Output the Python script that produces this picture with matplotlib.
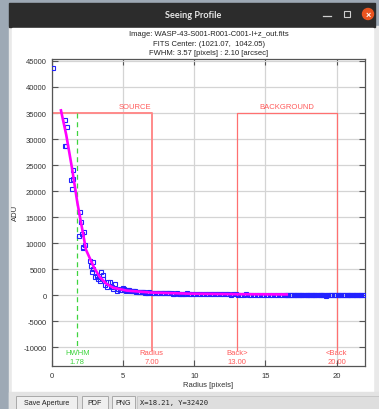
import matplotlib
matplotlib.use('Agg')
import matplotlib.pyplot as plt
from matplotlib.patches import Rectangle, Circle

# Header text of the plot
title_lines = [
    'Image: WASP-43-S001-R001-C001-I+z_out.fits',
    'FITS Center: (1021.07,  1042.05)',
    'FWHM: 3.57 [pixels] : 2.10 [arcsec]',
]

# Radial profile samples (radius in pixels, counts in ADU)
radius = [0.05, 0.91, 1.03, 0.94, 1.00, 1.45, 1.31, 1.50, 1.38, 1.97,
          2.01, 1.92, 2.08, 2.25, 2.15, 2.32, 2.20, 2.67, 2.90, 2.72,
          2.90, 2.78, 3.14, 3.60, 3.25, 3.02, 3.37, 3.72, 4.07, 4.42,
          4.30, 4.19, 3.84, 4.54, 4.78, 5.00, 4.66, 3.96, 3.56, 3.42,
          4.85, 5.05, 5.20, 5.40, 5.55, 5.75, 5.90, 6.10, 6.30, 6.45,
          6.65, 6.80, 7.00, 7.20, 7.35, 7.55, 7.70, 7.90, 8.10, 8.25,
          8.45, 8.60, 8.80, 9.00, 9.15, 9.35, 9.50, 9.70, 9.90, 10.05,
          10.25, 10.40, 10.60, 10.80, 10.95, 11.15, 11.30, 11.50, 11.70, 11.85,
          12.05, 12.20, 12.40, 12.60, 12.75, 12.95, 13.10, 13.30, 13.50, 13.65,
          13.85, 14.00, 14.20, 14.40, 14.55, 14.75, 14.90, 15.10, 15.30, 15.45,
          15.65, 15.80, 16.00, 16.20, 16.35, 16.55, 16.70, 16.90, 17.10, 17.25,
          17.45, 17.60, 17.80, 18.00, 18.15, 18.35, 18.50, 18.70, 18.90, 19.05,
          19.25, 19.40, 19.60, 19.80, 19.95, 20.15, 20.30, 20.50, 20.70, 20.85,
          21.05, 21.20, 21.40, 21.60, 21.75, 21.95,
          5.12, 5.31, 5.48, 5.66, 5.83, 6.02, 6.21, 6.38, 6.57, 6.74,
          7.11, 7.46, 7.82, 8.18, 8.53, 8.91, 9.26, 9.61, 16.45, 16.62,
          16.81, 17.02, 17.18, 17.36, 17.53, 17.71, 17.92, 18.08, 18.27, 18.43,
          18.61, 18.82, 18.98, 19.16, 19.33, 19.52, 19.71, 19.88, 20.07, 20.23,
          20.42, 20.61, 20.78, 20.97, 21.13, 21.32, 21.51, 21.68, 21.87]
adu = [43600, 33700, 32250, 28700, 28750, 24000, 22150, 22300, 20400, 15900,
       14000, 11400, 11700, 12050, 9300, 9600, 9000, 6600, 6350, 5650,
       5000, 4370, 3700, 3850, 3080, 3400, 2750, 1920, 2440, 2120,
       1150, 1480, 1480, 830, 1020, 1350, 1150, 2440, 3080, 4500,
       950, 1200, 820, 900, 700, 760, 620, 640, 520, 560,
       470, 500, 430, 460, 380, 410, 340, 360, 320, 300,
       330, 280, 300, 260, 280, 240, 380, 220, 200, 190,
       180, 170, 160, 150, 160, 140, 130, 150, 120, 110,
       130, 100, 110, 90, 120, 100, 80, 90, 70, 100,
       80, 60, 90, 70, 50, 80, 60, 40, 70, 50,
       30, 60, 40, 20, 50, 30, 10, 40, 20, 0,
       30, 10, 20, 0, 10, 30, -20, 10, 0, -10,
       -150, 20, 0, -10, 10, -20, 0, 10, -10, 0,
       20, -10, 0, 10, -20, 0,
       1050, 980, 850, 720, 680, 590, 560, 500, 480, 440,
       420, 390, 350, 310, 290, 270, 250, 230, 40, 10,
       30, 0, 20, -10, 10, 0, 20, -10, 0, 10,
       -20, 0, 10, -10, 0, 20, -10, 0, 10, -20,
       0, 10, -10, 0, 20, -10, 0, 10, -10]

# Fitted profile
fit_radius = [0.63, 1.00, 1.40, 1.78, 2.39, 2.95, 3.35, 3.80, 4.30, 5.25,
              6.90, 9.60, 13.00, 16.50]
fit_adu = [35500, 30800, 24500, 17800, 8700, 5300, 3500, 2200, 1400, 850,
           480, 260, 160, 110]

# Aperture settings
hwhm = 1.78
source_radius = 7.00
back_inner = 13.00
back_outer = 20.00
box_top = 35000

FW, FH = 379, 410
PLOT_FONT = ['Liberation Sans', 'DejaVu Sans']
RED = '#ff5a5a'
GREEN = '#3fd43f'


def draw_window(fig):
    """Draw the window frame around the chart, in pixel coordinates."""
    bg = fig.add_axes([0, 0, 1, 1], zorder=0)
    bg.set_xlim(0, FW)
    bg.set_ylim(FH, 0)
    bg.axis('off')
    bg.add_patch(Rectangle((0, 0), FW, FH, color='#9ea9b5'))
    bg.add_patch(Rectangle((9, 27), FW - 9, FH - 27, color='#e9e9e9'))
    bg.add_patch(Rectangle((9, 4), 366, 23.5, color='#2c2c2c'))
    bg.add_patch(Rectangle((12, 28.5), 361, 364, color='white'))
    bg.text(193, 16, 'Seeing Profile', color='#e6e6e6', fontsize=6.6,
            fontweight='bold', family=['Lato', 'DejaVu Sans'],
            ha='center', va='center')
    bg.plot([323, 331], [16.5, 16.5], color='#cfcfcf', lw=0.9)
    bg.add_patch(Rectangle((344, 12), 6, 6, fill=False, ec='#cfcfcf', lw=0.8))
    bg.add_patch(Circle((368, 15), 5.5, color='#e95420'))
    bg.text(368, 15, '\u00d7', color='white', fontsize=6.5, fontweight='bold',
            ha='center', va='center')

    # bottom toolbar
    bg.add_patch(Rectangle((9, 393), FW - 9, FH - 393, color='#e3e3e3'))
    for x0, x1, label in [(16, 77, 'Save Aperture'), (82, 108, 'PDF'), (112, 135, 'PNG')]:
        bg.add_patch(Rectangle((x0, 397), x1 - x0, 14, fc='#efefef', ec='#a9a9a9', lw=0.7))
        bg.text((x0 + x1) / 2, 403.5, label, fontsize=5.1, color='#222222',
                ha='center', va='center')
    bg.add_patch(Rectangle((137, 397), FW - 137, 14, fc='#dedede', ec='#c4c4c4', lw=0.6))
    bg.text(140, 403.5, 'X=18.21, Y=32420', fontsize=5.1, color='#222222',
            family='DejaVu Sans Mono', ha='left', va='center')


def plot_profile(fig):
    """Plot the radial profile with the aperture markers."""
    ax = fig.add_axes([52 / FW, 1 - 367 / FH, 313 / FW, 307.5 / FH], zorder=1)
    ax.set_xlim(0, 22)
    ax.set_ylim(-13650, 45480)
    ax.set_xticks([0, 5, 10, 15, 20])
    ax.set_yticks(range(-10000, 45001, 5000))
    ax.grid(True, color='#d4d4d4', lw=0.9)
    ax.set_axisbelow(True)
    ax.tick_params(direction='in', length=4, width=0.8, top=True, right=True,
                   labelsize=5.5, pad=4, color='#555555', labelcolor='#333333')
    for sp in ax.spines.values():
        sp.set_color('#555555')
        sp.set_linewidth(0.9)

    # aperture boxes
    ax.plot([0, source_radius, source_radius], [box_top, box_top, -10500],
            color='#ff8a8a', lw=1.4, zorder=2)
    ax.plot([back_inner, back_inner, back_outer, back_outer],
            [-10500, box_top, box_top, -10500], color='#ff7070', lw=0.9, zorder=2)
    ax.plot([hwhm, hwhm], [box_top, -10500], color=GREEN, lw=0.9,
            ls=(0, (4, 3)), zorder=2)

    ax.plot(radius, adu, ls='none', marker='s', ms=2.3, mfc='none',
            mec='#2222ff', mew=0.8, zorder=3)
    ax.plot(fit_radius, fit_adu, color='#ff00ff', lw=1.9, zorder=4)

    ax.text(source_radius, 36300, 'SOURCE', color=RED, fontsize=5.5, ha='right', va='center')
    ax.text((back_inner + back_outer) / 2, 36300, 'BACKGROUND', color=RED,
            fontsize=5.5, ha='center', va='center')
    labels = [(hwhm, 'HWHM', GREEN), (source_radius, 'Radius', RED),
              (back_inner, 'Back>', RED), (back_outer, '<Back', RED)]
    for x, name, col in labels:
        ax.text(x, -10960, name, color=col, fontsize=5.5, ha='center', va='center')
        ax.text(x, -12690, '%.2f' % x, color=col, fontsize=5.5, ha='center', va='center')

    ax.set_xlabel('Radius [pixels]', fontsize=5.5, color='#333333', labelpad=2)
    ax.set_ylabel('ADU', fontsize=5.5, color='#333333', labelpad=3)

    for i, line in enumerate(title_lines):
        fig.text(208.5 / FW, 1 - (34.7 + 9.3 * i) / FH, line, fontsize=5.5,
                 color='#222222', ha='center', va='center')


def main():
    plt.rcParams['font.family'] = PLOT_FONT
    plt.rcParams['axes.unicode_minus'] = False
    fig = plt.figure(figsize=(FW / 100, FH / 100), dpi=100)
    draw_window(fig)
    plot_profile(fig)
    fig.savefig('out.png', dpi=100)


if __name__ == "__main__":
    main()
